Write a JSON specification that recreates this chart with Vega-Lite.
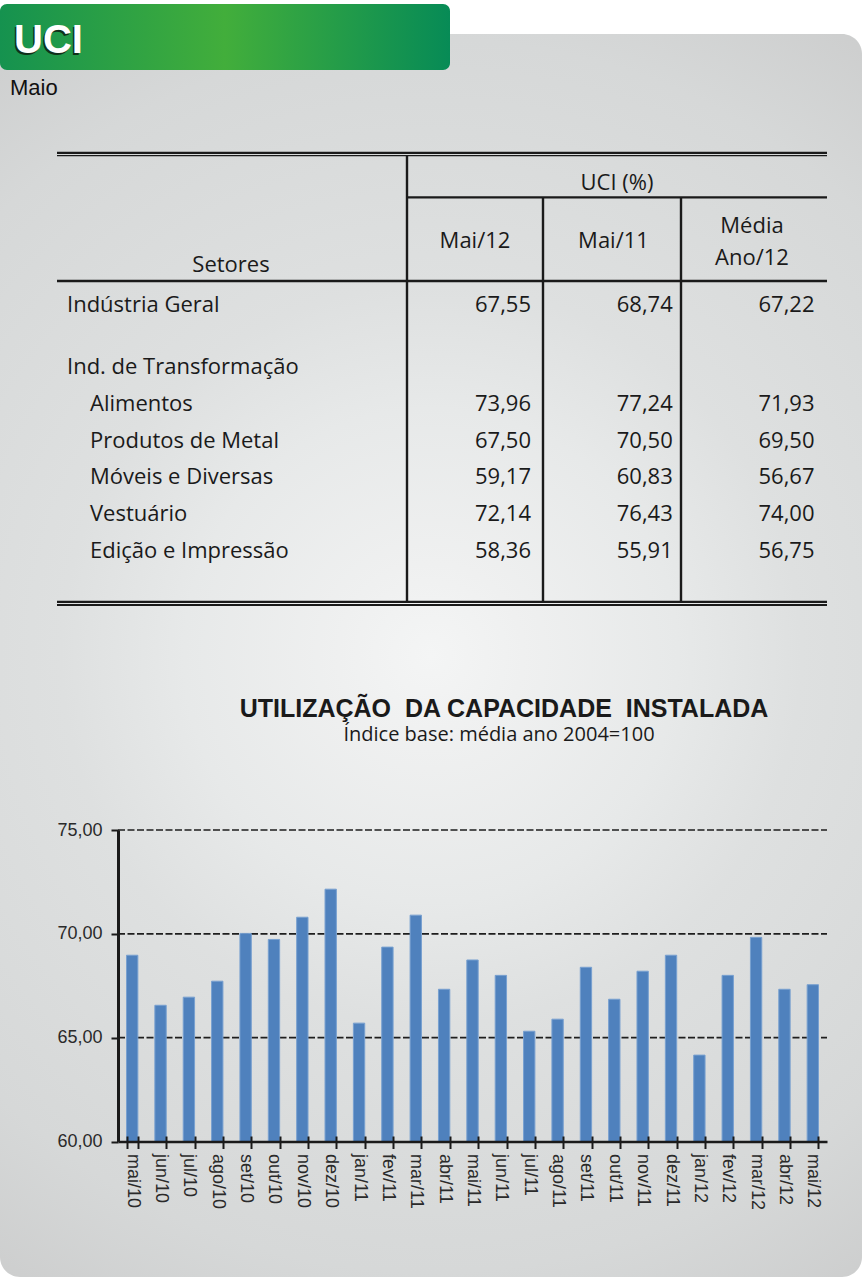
{
  "$schema": "https://vega.github.io/schema/vega-lite/v6.json",
  "width": 862,
  "height": 1277,
  "autosize": "none",
  "padding": 0,
  "background": "#ffffff",
  "config": {
    "view": {"stroke": null},
    "locale": {"number": {"decimal": ",", "thousands": ".", "grouping": [3], "currency": ["R$ ", ""]}}
  },
  "datasets": {
    "tabela": [
      {"grupo": "Indústria Geral", "subsetor": "", "mai12": 67.55, "mai11": 68.74, "media": 67.22},
      {"grupo": "Ind. de Transformação", "subsetor": ""},
      {"grupo": "Ind. de Transformação", "subsetor": "Alimentos", "mai12": 73.96, "mai11": 77.24, "media": 71.93},
      {"grupo": "Ind. de Transformação", "subsetor": "Produtos de Metal", "mai12": 67.50, "mai11": 70.50, "media": 69.50},
      {"grupo": "Ind. de Transformação", "subsetor": "Móveis e Diversas", "mai12": 59.17, "mai11": 60.83, "media": 56.67},
      {"grupo": "Ind. de Transformação", "subsetor": "Vestuário", "mai12": 72.14, "mai11": 76.43, "media": 74.00},
      {"grupo": "Ind. de Transformação", "subsetor": "Edição e Impressão", "mai12": 58.36, "mai11": 55.91, "media": 56.75}
    ],
    "colunas": [
      {"coluna": "mai12", "rotulo": ["Mai/12"]},
      {"coluna": "mai11", "rotulo": ["Mai/11"]},
      {"coluna": "media", "rotulo": ["Média", "Ano/12"]}
    ],
    "uci": [
      {"mes": "mai/10", "uci": 68.97},
      {"mes": "jun/10", "uci": 66.56},
      {"mes": "jul/10", "uci": 66.95},
      {"mes": "ago/10", "uci": 67.72},
      {"mes": "set/10", "uci": 70.02},
      {"mes": "out/10", "uci": 69.73},
      {"mes": "nov/10", "uci": 70.80},
      {"mes": "dez/10", "uci": 72.15},
      {"mes": "jan/11", "uci": 65.70},
      {"mes": "fev/11", "uci": 69.36},
      {"mes": "mar/11", "uci": 70.90},
      {"mes": "abr/11", "uci": 67.33},
      {"mes": "mai/11", "uci": 68.74},
      {"mes": "jun/11", "uci": 68.00},
      {"mes": "jul/11", "uci": 65.31},
      {"mes": "ago/11", "uci": 65.89},
      {"mes": "set/11", "uci": 68.39},
      {"mes": "out/11", "uci": 66.85},
      {"mes": "nov/11", "uci": 68.20},
      {"mes": "dez/11", "uci": 68.97},
      {"mes": "jan/12", "uci": 64.16},
      {"mes": "fev/12", "uci": 68.00},
      {"mes": "mar/12", "uci": 69.83},
      {"mes": "abr/12", "uci": 67.33},
      {"mes": "mai/12", "uci": 67.55}
    ],
    "grade": [{"nivel": 65}, {"nivel": 70}, {"nivel": 75}]
  },
  "layer": [
    {
      "data": {"values": [{}]},
      "layer": [
        {
          "mark": {"type": "rect", "cornerRadius": 20, "color": {"gradient": "radial", "x1": 0.5, "y1": 0.5, "r1": 0, "x2": 0.5, "y2": 0.5, "r2": 0.62, "stops": [{"offset": 0, "color": "#f4f5f5"}, {"offset": 0.12, "color": "#eff0f0"}, {"offset": 0.32, "color": "#e7e9e9"}, {"offset": 0.48, "color": "#dee0e0"}, {"offset": 0.8, "color": "#d6d8d8"}, {"offset": 1, "color": "#cccdcd"}]}},
          "encoding": {
            "x": {"datum": 0, "type": "quantitative", "scale": {"domain": [0, 862], "nice": false, "zero": false}, "axis": null},
            "x2": {"datum": 862},
            "y": {"datum": 34, "type": "quantitative", "scale": {"domain": [0, 1277], "nice": false, "zero": false, "reverse": true}, "axis": null},
            "y2": {"datum": 1277}
          }
        },
        {
          "mark": {"type": "rect", "cornerRadius": 7, "color": {"gradient": "linear", "x1": 0, "y1": 0, "x2": 1, "y2": 0, "stops": [{"offset": 0, "color": "#15924f"}, {"offset": 0.5, "color": "#42ae3b"}, {"offset": 1, "color": "#078b56"}]}},
          "encoding": {
            "x": {"datum": 0, "type": "quantitative", "scale": {"domain": [0, 862], "nice": false, "zero": false}, "axis": null},
            "x2": {"datum": 450},
            "y": {"datum": 4, "type": "quantitative", "scale": {"domain": [0, 1277], "nice": false, "zero": false, "reverse": true}, "axis": null},
            "y2": {"datum": 70}
          }
        },
        {
          "data": {"values": [{"texto": "UCI"}]},
          "mark": {"type": "text", "font": "Liberation Sans Narrow, Arial Narrow, Liberation Sans", "fontWeight": "bold", "fontSize": 40, "align": "left", "baseline": "alphabetic", "color": "#10301a"},
          "encoding": {
            "x": {"datum": 12.5, "type": "quantitative", "scale": {"domain": [0, 862], "nice": false, "zero": false}, "axis": null},
            "y": {"datum": 54.5, "type": "quantitative", "scale": {"domain": [0, 1277], "nice": false, "zero": false, "reverse": true}, "axis": null},
            "text": {"field": "texto"}
          }
        },
        {
          "data": {"values": [{"texto": "UCI"}]},
          "mark": {"type": "text", "font": "Liberation Sans Narrow, Arial Narrow, Liberation Sans", "fontWeight": "bold", "fontSize": 40, "align": "left", "baseline": "alphabetic", "color": "#ffffff"},
          "encoding": {
            "x": {"datum": 14, "type": "quantitative", "scale": {"domain": [0, 862], "nice": false, "zero": false}, "axis": null},
            "y": {"datum": 53, "type": "quantitative", "scale": {"domain": [0, 1277], "nice": false, "zero": false, "reverse": true}, "axis": null},
            "text": {"field": "texto"}
          }
        },
        {
          "data": {"values": [{"texto": "Maio"}]},
          "mark": {"type": "text", "font": "Liberation Sans", "fontSize": 22, "align": "left", "baseline": "alphabetic", "color": "#111111"},
          "encoding": {
            "x": {"datum": 10, "type": "quantitative", "scale": {"domain": [0, 862], "nice": false, "zero": false}, "axis": null},
            "y": {"datum": 95, "type": "quantitative", "scale": {"domain": [0, 1277], "nice": false, "zero": false, "reverse": true}, "axis": null},
            "text": {"field": "texto"}
          }
        },
        {
          "mark": {"type": "rule", "color": "#1a1a1a", "strokeWidth": 2.3},
          "encoding": {
            "x": {"datum": 57, "type": "quantitative", "scale": {"domain": [0, 862], "nice": false, "zero": false}, "axis": null},
            "x2": {"datum": 827},
            "y": {"datum": 152.8, "type": "quantitative", "scale": {"domain": [0, 1277], "nice": false, "zero": false, "reverse": true}, "axis": null}
          }
        },
        {
          "mark": {"type": "rule", "color": "#1a1a1a", "strokeWidth": 1.4},
          "encoding": {
            "x": {"datum": 57, "type": "quantitative", "scale": {"domain": [0, 862], "nice": false, "zero": false}, "axis": null},
            "x2": {"datum": 827},
            "y": {"datum": 155.6, "type": "quantitative", "scale": {"domain": [0, 1277], "nice": false, "zero": false, "reverse": true}, "axis": null}
          }
        },
        {
          "mark": {"type": "rule", "color": "#1a1a1a", "strokeWidth": 2.2},
          "encoding": {
            "x": {"datum": 407, "type": "quantitative", "scale": {"domain": [0, 862], "nice": false, "zero": false}, "axis": null},
            "x2": {"datum": 827},
            "y": {"datum": 197.4, "type": "quantitative", "scale": {"domain": [0, 1277], "nice": false, "zero": false, "reverse": true}, "axis": null}
          }
        },
        {
          "mark": {"type": "rule", "color": "#1a1a1a", "strokeWidth": 2.6},
          "encoding": {
            "x": {"datum": 57, "type": "quantitative", "scale": {"domain": [0, 862], "nice": false, "zero": false}, "axis": null},
            "x2": {"datum": 827},
            "y": {"datum": 281, "type": "quantitative", "scale": {"domain": [0, 1277], "nice": false, "zero": false, "reverse": true}, "axis": null}
          }
        },
        {
          "mark": {"type": "rule", "color": "#1a1a1a", "strokeWidth": 2.3},
          "encoding": {
            "x": {"datum": 57, "type": "quantitative", "scale": {"domain": [0, 862], "nice": false, "zero": false}, "axis": null},
            "x2": {"datum": 827},
            "y": {"datum": 601.8, "type": "quantitative", "scale": {"domain": [0, 1277], "nice": false, "zero": false, "reverse": true}, "axis": null}
          }
        },
        {
          "mark": {"type": "rule", "color": "#1a1a1a", "strokeWidth": 1.8},
          "encoding": {
            "x": {"datum": 57, "type": "quantitative", "scale": {"domain": [0, 862], "nice": false, "zero": false}, "axis": null},
            "x2": {"datum": 827},
            "y": {"datum": 605, "type": "quantitative", "scale": {"domain": [0, 1277], "nice": false, "zero": false, "reverse": true}, "axis": null}
          }
        },
        {
          "mark": {"type": "rule", "color": "#1a1a1a", "strokeWidth": 2.4},
          "encoding": {
            "x": {"datum": 407, "type": "quantitative", "scale": {"domain": [0, 862], "nice": false, "zero": false}, "axis": null},
            "y": {"datum": 155, "type": "quantitative", "scale": {"domain": [0, 1277], "nice": false, "zero": false, "reverse": true}, "axis": null},
            "y2": {"datum": 602}
          }
        },
        {
          "mark": {"type": "rule", "color": "#1a1a1a", "strokeWidth": 2.4},
          "encoding": {
            "x": {"datum": 543, "type": "quantitative", "scale": {"domain": [0, 862], "nice": false, "zero": false}, "axis": null},
            "y": {"datum": 197, "type": "quantitative", "scale": {"domain": [0, 1277], "nice": false, "zero": false, "reverse": true}, "axis": null},
            "y2": {"datum": 602}
          }
        },
        {
          "mark": {"type": "rule", "color": "#1a1a1a", "strokeWidth": 2.4},
          "encoding": {
            "x": {"datum": 681, "type": "quantitative", "scale": {"domain": [0, 862], "nice": false, "zero": false}, "axis": null},
            "y": {"datum": 197, "type": "quantitative", "scale": {"domain": [0, 1277], "nice": false, "zero": false, "reverse": true}, "axis": null},
            "y2": {"datum": 602}
          }
        },
        {
          "data": {"values": [{"texto": "UCI (%)"}]},
          "mark": {"type": "text", "font": "Open Sans", "fontSize": 22, "align": "center", "baseline": "alphabetic", "color": "#1a1a1a"},
          "encoding": {
            "x": {"datum": 617, "type": "quantitative", "scale": {"domain": [0, 862], "nice": false, "zero": false}, "axis": null},
            "y": {"datum": 190, "type": "quantitative", "scale": {"domain": [0, 1277], "nice": false, "zero": false, "reverse": true}, "axis": null},
            "text": {"field": "texto"}
          }
        },
        {
          "data": {"values": [{"texto": "Setores"}]},
          "mark": {"type": "text", "font": "Open Sans", "fontSize": 22, "align": "center", "baseline": "alphabetic", "color": "#1a1a1a"},
          "encoding": {
            "x": {"datum": 231, "type": "quantitative", "scale": {"domain": [0, 862], "nice": false, "zero": false}, "axis": null},
            "y": {"datum": 272, "type": "quantitative", "scale": {"domain": [0, 1277], "nice": false, "zero": false, "reverse": true}, "axis": null},
            "text": {"field": "texto"}
          }
        },
        {
          "data": {"values": [{"texto": "UTILIZAÇÃO\u00a0 DA CAPACIDADE\u00a0 INSTALADA"}]},
          "mark": {"type": "text", "font": "Liberation Sans", "fontWeight": "bold", "fontSize": 25, "align": "center", "baseline": "alphabetic", "color": "#1a1a1a"},
          "encoding": {
            "x": {"datum": 504, "type": "quantitative", "scale": {"domain": [0, 862], "nice": false, "zero": false}, "axis": null},
            "y": {"datum": 717, "type": "quantitative", "scale": {"domain": [0, 1277], "nice": false, "zero": false, "reverse": true}, "axis": null},
            "text": {"field": "texto"}
          }
        },
        {
          "data": {"values": [{"texto": "Índice base: média ano 2004=100"}]},
          "mark": {"type": "text", "font": "Open Sans", "fontSize": 20, "align": "center", "baseline": "alphabetic", "color": "#1a1a1a"},
          "encoding": {
            "x": {"datum": 499, "type": "quantitative", "scale": {"domain": [0, 862], "nice": false, "zero": false}, "axis": null},
            "y": {"datum": 741, "type": "quantitative", "scale": {"domain": [0, 1277], "nice": false, "zero": false, "reverse": true}, "axis": null},
            "text": {"field": "texto"}
          }
        }
      ]
    },
    {
      "data": {"name": "colunas"},
      "transform": [{"filter": "datum.coluna !== 'media'"}],
      "mark": {"type": "text", "font": "Open Sans", "fontSize": 22, "align": "center", "baseline": "alphabetic", "color": "#1a1a1a"},
      "encoding": {
        "x": {"field": "coluna", "type": "nominal", "scale": {"type": "point", "domain": ["mai12", "mai11", "media"], "range": [475, 752], "padding": 0}, "axis": null},
        "y": {"datum": 248, "type": "quantitative", "scale": {"domain": [0, 1277], "nice": false, "zero": false, "reverse": true}, "axis": null},
        "text": {"field": "rotulo"}
      }
    },
    {
      "data": {"name": "colunas"},
      "transform": [{"filter": "datum.coluna === 'media'"}],
      "mark": {"type": "text", "font": "Open Sans", "fontSize": 22, "align": "center", "baseline": "alphabetic", "lineHeight": 31.5, "color": "#1a1a1a"},
      "encoding": {
        "x": {"field": "coluna", "type": "nominal", "scale": {"type": "point", "domain": ["mai12", "mai11", "media"], "range": [475, 752], "padding": 0}, "axis": null},
        "y": {"datum": 233, "type": "quantitative", "scale": {"domain": [0, 1277], "nice": false, "zero": false, "reverse": true}, "axis": null},
        "text": {"field": "rotulo"}
      }
    },
    {
      "data": {"name": "tabela"},
      "transform": [{"filter": "datum.subsetor === ''"}],
      "mark": {"type": "text", "font": "Open Sans", "fontSize": 22, "align": "left", "baseline": "alphabetic", "color": "#1a1a1a"},
      "encoding": {
        "x": {"datum": 67, "type": "quantitative", "scale": {"domain": [0, 862], "nice": false, "zero": false}, "axis": null},
        "y": {"field": "grupo", "type": "nominal", "scale": {"type": "point", "domain": ["Indústria Geral", "Ind. de Transformação"], "range": [312, 374], "padding": 0}, "axis": null},
        "text": {"field": "grupo"}
      }
    },
    {
      "data": {"name": "tabela"},
      "transform": [{"filter": "datum.subsetor !== ''"}],
      "mark": {"type": "text", "font": "Open Sans", "fontSize": 22, "align": "left", "baseline": "alphabetic", "color": "#1a1a1a"},
      "encoding": {
        "x": {"datum": 90, "type": "quantitative", "scale": {"domain": [0, 862], "nice": false, "zero": false}, "axis": null},
        "y": {"field": "grupo", "type": "nominal", "scale": {"type": "point", "domain": ["Indústria Geral", "Ind. de Transformação"], "range": [312, 374], "padding": 0}, "axis": null},
        "yOffset": {"field": "subsetor", "type": "nominal", "scale": {"type": "point", "domain": ["", "Alimentos", "Produtos de Metal", "Móveis e Diversas", "Vestuário", "Edição e Impressão"], "range": [0, 184], "padding": 0}},
        "text": {"field": "subsetor"}
      }
    },
    {
      "data": {"name": "tabela"},
      "transform": [
        {"fold": ["mai12", "mai11", "media"], "as": ["coluna", "valor"]},
        {"filter": "isValid(datum.valor)"}
      ],
      "mark": {"type": "text", "font": "Open Sans", "fontSize": 22, "align": "right", "baseline": "alphabetic", "color": "#1a1a1a"},
      "encoding": {
        "x": {"field": "coluna", "type": "nominal", "scale": {"type": "point", "domain": ["mai12", "mai11", "media"], "range": [531, 814.5], "padding": 0}, "axis": null},
        "y": {"field": "grupo", "type": "nominal", "scale": {"type": "point", "domain": ["Indústria Geral", "Ind. de Transformação"], "range": [312, 374], "padding": 0}, "axis": null},
        "yOffset": {"field": "subsetor", "type": "nominal", "scale": {"type": "point", "domain": ["", "Alimentos", "Produtos de Metal", "Móveis e Diversas", "Vestuário", "Edição e Impressão"], "range": [0, 184], "padding": 0}},
        "text": {"field": "valor", "type": "quantitative", "format": ".2f"}
      }
    },
    {
      "data": {"name": "grade"},
      "mark": {"type": "rule", "color": "#1e1e1e", "strokeWidth": 1.6, "strokeDash": [7, 2.5]},
      "encoding": {
        "x": {"datum": 118, "type": "quantitative", "scale": {"domain": [0, 862], "nice": false, "zero": false}, "axis": null},
        "x2": {"datum": 827},
        "y": {"field": "nivel", "type": "quantitative", "scale": {"domain": [60, 75], "range": [1141.5, 830], "nice": false, "zero": false}, "axis": null}
      }
    },
    {
      "data": {"name": "uci"},
      "mark": {"type": "bar", "opacity": 0},
      "encoding": {
        "x": {
          "field": "mes", "type": "ordinal", "sort": null,
          "scale": {"type": "band", "range": [118, 827], "paddingInner": 0.6, "paddingOuter": 0.3},
          "axis": {"orient": "bottom", "offset": -141, "title": null, "labels": false, "domain": false, "tickBand": "extent", "tickColor": "#1a1a1a", "tickWidth": 2, "tickSize": 5.5, "grid": false, "zindex": 1}
        },
        "y": {"field": "uci", "type": "quantitative", "scale": {"domain": [60, 75], "range": [1141.5, 830], "nice": false, "zero": false}, "axis": null},
        "y2": {"datum": 60}
      }
    },
    {
      "data": {"name": "uci"},
      "mark": {"type": "bar", "color": "#4f81bd", "stroke": "#78a0d0", "strokeWidth": 1},
      "encoding": {
        "x": {
          "field": "mes", "type": "ordinal", "sort": null,
          "scale": {"type": "band", "range": [118, 827], "paddingInner": 0.6, "paddingOuter": 0.3},
          "axis": {"orient": "bottom", "offset": -135.5, "title": null, "labelAngle": 90, "labelFont": "Liberation Sans", "labelFontSize": 18, "labelColor": "#2a2a2a", "labelPadding": 5, "tickBand": "extent", "tickColor": "#1a1a1a", "tickWidth": 2, "tickSize": 7, "domainColor": "#1a1a1a", "domainWidth": 2.5, "grid": false, "zindex": 1}
        },
        "y": {
          "field": "uci", "type": "quantitative",
          "scale": {"domain": [60, 75], "range": [1141.5, 830], "nice": false, "zero": false},
          "axis": {"orient": "left", "offset": -118, "title": null, "values": [60, 65, 70, 75], "format": ".2f", "labelFont": "Liberation Sans", "labelFontSize": 18, "labelColor": "#2a2a2a", "labelPadding": 9, "tickColor": "#1a1a1a", "tickWidth": 2, "tickSize": 7, "domainColor": "#1a1a1a", "domainWidth": 3, "grid": false, "zindex": 1}
        },
        "y2": {"datum": 60}
      }
    }
  ],
  "resolve": {"scale": {"x": "independent", "y": "independent"}}
}
